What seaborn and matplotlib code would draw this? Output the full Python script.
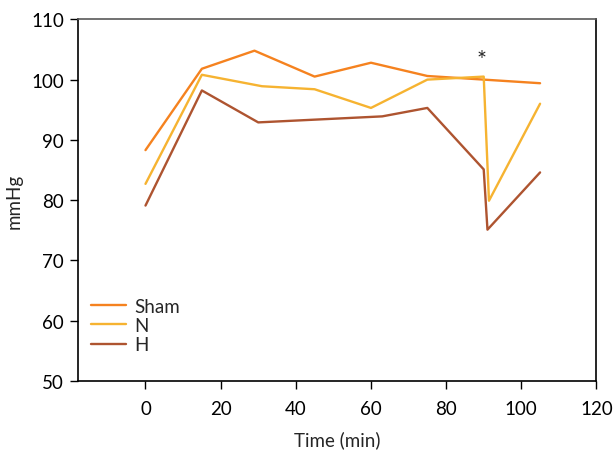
import pandas as pd
import numpy as np
import matplotlib
matplotlib.use('Agg')
import matplotlib.pyplot as plt
import seaborn as sns

# dados
sham_x = [0, 15, 29, 45, 60, 75, 90, 105]
sham_y = [88.3, 101.8, 104.8, 100.5, 102.8, 100.6, 100.0, 99.4]

n_x = [0, 15, 31, 45, 60, 75, 90, 91.4, 105]
n_y = [82.7, 100.8, 98.9, 98.4, 95.3, 100.0, 100.5, 79.9, 96.0]

h_x = [0, 15, 30, 63, 75, 90, 91, 105]
h_y = [79.1, 98.2, 92.9, 93.9, 95.3, 85.1, 75.1, 84.6]

grupos = ['Sham', 'N', 'H']
cores = ['#F5821F', '#F6B331', '#AE5430']

df = pd.concat([
    pd.DataFrame({'x': sham_x, 'y': sham_y, 'grupo': 'Sham'}),
    pd.DataFrame({'x': n_x, 'y': n_y, 'grupo': 'N'}),
    pd.DataFrame({'x': h_x, 'y': h_y, 'grupo': 'H'}),
], ignore_index=True)

sns.set_style('white')
plt.rcParams['font.family'] = ['Lato', 'DejaVu Sans']
fs = 13.5

fig = plt.figure(figsize=(6.13, 4.52), dpi=100)
ax = fig.add_axes([0.127, 0.155, 0.846, 0.8])

sns.lineplot(data=df, x='x', y='y', hue='grupo', hue_order=grupos,
             palette=cores, estimator=None, sort=False, linewidth=1.7, ax=ax)

ax.set_xlim(-18, 120)
ax.set_ylim(50, 110)
ax.set_xticks(range(0, 121, 20))
ax.set_yticks(range(50, 111, 10))
ax.tick_params(axis='both', labelsize=fs, length=5.5, width=1, direction='out',
               bottom=True, left=True, colors='black')
ax.tick_params(axis='x', pad=8.5)
ax.tick_params(axis='y', pad=4.5)
for lado in ['left', 'bottom', 'right']:
    ax.spines[lado].set_color('black')
    ax.spines[lado].set_linewidth(1.2)
ax.spines['top'].set_color('#595959')
ax.spines['top'].set_linewidth(1.2)

ax.set_xlabel('Time (min)', fontsize=fs, labelpad=9)
ax.set_ylabel('mmHg', fontsize=fs, labelpad=6)

ax.text(89.5, 103.4, '*', fontsize=17, ha='center', va='center')

ax.legend(loc='upper left', bbox_to_anchor=(0.025, 0.23), frameon=False,
          fontsize=fs, handlelength=1.9, handletextpad=0.4,
          labelspacing=0.12, borderpad=0, borderaxespad=0)

fig.savefig('out.png', dpi=100)
